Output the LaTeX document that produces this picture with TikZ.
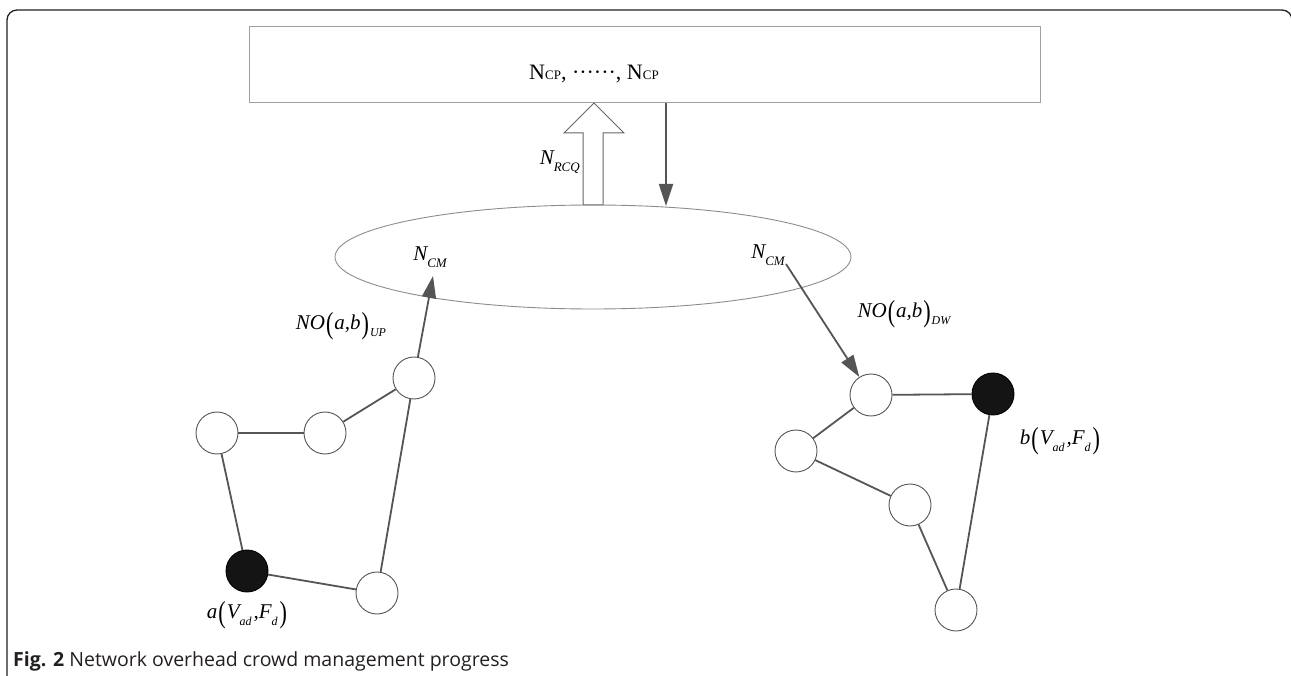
\documentclass[tikz,border=0pt]{standalone}
\usepackage{fontspec}
\usepackage{graphicx}
\setmainfont{Liberation Serif}
\newfontfamily\capfont{Open Sans}
\usetikzlibrary{arrows.meta,shapes.geometric}
\newcommand{\isub}[2][12]{\raisebox{-0.34em}{\fontsize{#1}{#1}\selectfont\itshape #2}}
\newcommand{\tpar}[1]{\raisebox{-0.2em}{\scalebox{1.05}[1.45]{\upshape #1}}}
\definecolor{edgegray}{HTML}{555555}
\definecolor{boxgray}{HTML}{A0A0A0}
\definecolor{ellgray}{HTML}{8C8C8C}
\definecolor{framecol}{HTML}{231F20}
\begin{document}
\begin{tikzpicture}[x=1pt,y=-1pt,
  wnode/.style={circle,draw=edgegray,line width=0.9pt,fill=white,minimum size=42pt,inner sep=0pt},
  bnode/.style={circle,draw=black,line width=0.9pt,fill=black!92,minimum size=42pt,inner sep=0pt},
  edge/.style={draw=edgegray,line width=1.8pt},
  conn/.style={draw=edgegray,line width=1.8pt,-{Triangle[length=22pt,width=14pt]}},
  lbl/.style={inner sep=0pt,font=\fontsize{21}{22}\selectfont},
]
\useasboundingbox (0,0) rectangle (1291,676);
% frame
\draw[framecol,line width=1.3pt,rounded corners=10pt] (7,690) -- (7,10) -- (1292,10) -- (1292,690);
% top box
\node[draw=boxgray,line width=1pt,minimum width=791pt,minimum height=76pt,inner sep=0pt] (top) at (644.5,65) {};
\node[inner sep=0pt,font=\fontsize{22}{24}\selectfont] (cp) at (594,74) {N{\fontsize{13}{13}\selectfont CP}, ······, N{\fontsize{13}{13}\selectfont CP}};
% ellipse
\node[draw=ellgray,line width=0.9pt,ellipse,minimum width=516pt,minimum height=104pt,inner sep=0pt] (ell) at (593,257) {};
% hollow block arrow
\draw[draw=edgegray!90,line width=1pt,fill=white] (583,205) -- (583,133) -- (564,133) -- (594,103) -- (624,133) -- (603,133) -- (603,205) -- cycle;
% down arrow
\coordinate (dtop) at (666,103);
\coordinate (dbot) at (666,206);
\draw[conn] (dtop) -- (dbot);
% labels
\node[inner sep=0pt,anchor=east] (rcq) at (580,162) {\fontsize{21}{22}\selectfont\itshape N\isub[13]{RCQ}};
\node[inner sep=0pt] (ncm1) at (430,257) {\fontsize{21}{22}\selectfont\itshape N\isub[13]{CM}};
\node[inner sep=0pt] (ncm2) at (768,255) {\fontsize{21}{22}\selectfont\itshape N\isub[13]{CM}};
\node[lbl] (noup) at (341,326) {\itshape NO\kern1pt\tpar{(}\kern1pt a,b\kern1pt\tpar{)}\kern1pt\isub[12]{UP}};
\node[lbl] (nodw) at (904,314) {\itshape NO\kern1pt\tpar{(}\kern1pt a,b\kern1pt\tpar{)}\kern1pt\isub[12]{DW}};
\node[lbl] (alab) at (247,615) {\itshape a\kern1pt\tpar{(}\kern1pt V\isub[12]{ad}\kern2pt,F\isub[12]{d}\kern2pt\tpar{)}};
\node[lbl] (blab) at (1060,441) {\itshape b\kern1pt\tpar{(}\kern1pt V\isub[12]{ad}\kern2pt,F\isub[12]{d}\kern2pt\tpar{)}};
% left cluster
\node[wnode] (l1) at (217,433) {};
\node[wnode] (l2) at (325,433) {};
\node[wnode] (l3) at (414,378) {};
\node[bnode] (la) at (247,571) {};
\node[wnode] (l5) at (377,593) {};
\draw[edge] (l1) -- (l2);
\draw[edge] (l2) -- (l3);
\draw[edge] (l1) -- (la);
\draw[edge] (la) -- (l5);
\draw[edge] (l5) -- (l3);
\coordinate (uptip) at (433,276);
\draw[conn] (l3) -- (uptip);
% right cluster
\node[wnode] (r1) at (871,395) {};
\node[bnode] (rb) at (993,394) {};
\node[wnode] (r2) at (796,451) {};
\node[wnode] (r3) at (910,505) {};
\node[wnode] (r4) at (956,610) {};
\draw[edge] (r1) -- (rb);
\draw[edge] (r1) -- (r2);
\draw[edge] (r2) -- (r3);
\draw[edge] (r3) -- (r4);
\draw[edge] (r4) -- (rb);
\coordinate (dwstart) at (786,264);
\draw[conn] (dwstart) -- (r1);
% caption
\node[anchor=base west,inner sep=0pt,text=framecol,font=\capfont\fontsize{19.5}{21}\selectfont] (cap) at (13,666) {\textbf{Fig. 2} Network overhead crowd management progress};
\end{tikzpicture}
\end{document}
